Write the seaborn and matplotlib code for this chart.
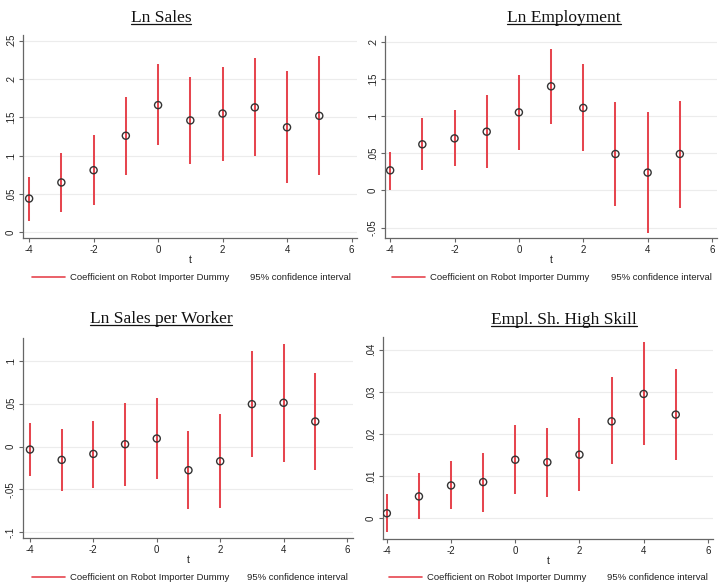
import numpy as np
import pandas as pd
import seaborn as sns
import matplotlib.pyplot as plt
from matplotlib.lines import Line2D

# event time
t = [-4, -3, -2, -1, 0, 1, 2, 3, 4, 5]

# Ln Sales
sales_coef = [0.044, 0.065, 0.081, 0.126, 0.166, 0.146, 0.155, 0.163, 0.137, 0.152]
sales_lo = [0.015, 0.026, 0.036, 0.075, 0.114, 0.089, 0.093, 0.099, 0.064, 0.075]
sales_hi = [0.072, 0.104, 0.127, 0.177, 0.219, 0.203, 0.216, 0.227, 0.210, 0.230]

# Ln Employment
emp_coef = [0.027, 0.062, 0.070, 0.079, 0.105, 0.140, 0.111, 0.049, 0.024, 0.049]
emp_lo = [0.000, 0.028, 0.033, 0.030, 0.055, 0.090, 0.053, -0.021, -0.057, -0.023]
emp_hi = [0.052, 0.097, 0.108, 0.128, 0.155, 0.190, 0.170, 0.119, 0.105, 0.120]

# Ln Sales per Worker
spw_coef = [-0.0035, -0.0156, -0.0086, 0.0027, 0.0094, -0.0277, -0.0172, 0.0496, 0.0512, 0.0293]
spw_lo = [-0.035, -0.052, -0.048, -0.046, -0.038, -0.073, -0.072, -0.0125, -0.0176, -0.027]
spw_hi = [0.028, 0.020, 0.030, 0.051, 0.057, 0.018, 0.038, 0.112, 0.120, 0.0855]

# Empl. Sh. High Skill
hs_coef = [0.0012, 0.0052, 0.0078, 0.0086, 0.0139, 0.0133, 0.0151, 0.0230, 0.0295, 0.0246]
hs_lo = [-0.0033, -0.0001, 0.0021, 0.0014, 0.0057, 0.0051, 0.0065, 0.0128, 0.0173, 0.0138]
hs_hi = [0.0057, 0.0107, 0.0137, 0.0156, 0.0222, 0.0215, 0.0238, 0.0334, 0.0418, 0.0355]

titles = ["Ln Sales", "Ln Employment", "Ln Sales per Worker", "Empl. Sh. High Skill"]

x_ticks = [-4, -2, 0, 2, 4, 6]
x_labels = ["-4", "-2", "0", "2", "4", "6"]

sales_yticks = [0, 0.05, 0.1, 0.15, 0.2, 0.25]
sales_ylabels = ["0", ".05", ".1", ".15", ".2", ".25"]
emp_yticks = [-0.05, 0, 0.05, 0.1, 0.15, 0.2]
emp_ylabels = ["-.05", "0", ".05", ".1", ".15", ".2"]
spw_yticks = [-0.1, -0.05, 0, 0.05, 0.1]
spw_ylabels = ["-.1", "-.05", "0", ".05", ".1"]
hs_yticks = [0, 0.01, 0.02, 0.03, 0.04]
hs_ylabels = ["0", ".01", ".02", ".03", ".04"]

sns.set_style("white")
plt.rcParams['font.family'] = ['Liberation Sans', 'DejaVu Sans']

W, H = 719, 584
fig = plt.figure(figsize=(W / 100, H / 100), dpi=100)

red = "#e6464f"

panels = [
    # coef, lo, hi, yticks, ylabels, ylim, xlim, axes rect (px: left, top, right, bottom), title center/baseline, legend y
    (sales_coef, sales_lo, sales_hi, sales_yticks, sales_ylabels, (-0.0075, 0.2575), (-4.19, 6.17),
     (23, 35, 357, 238), (161, 22), 278, 32, 250),
    (emp_coef, emp_lo, emp_hi, emp_yticks, emp_ylabels, (-0.064, 0.2077), (-4.16, 6.155),
     (385, 36, 717, 238), (564, 21.5), 278, 392, 611),
    (spw_coef, spw_lo, spw_hi, spw_yticks, spw_ylabels, (-0.107, 0.127), (-4.22, 6.19),
     (23, 338, 353, 538), (161, 323), 578, 32, 247),
    (hs_coef, hs_lo, hs_hi, hs_yticks, hs_ylabels, (-0.0049, 0.043), (-4.12, 6.16),
     (383, 337, 713, 539), (564, 323.5), 578, 389, 607),
]

title_texts = []
for i, (coef, lo, hi, yt, yl, ylim, xlim, rect, tpos, leg_y, leg_x, ci_x) in enumerate(panels):
    l, tp, r, b = rect
    ax = fig.add_axes([l / W, 1 - b / H, (r - l) / W, (b - tp) / H])
    df = pd.DataFrame({'t': t, 'coef': coef, 'lo': lo, 'hi': hi})

    ax.vlines(df['t'], df['lo'], df['hi'], color=red, lw=1.45, zorder=2)
    sns.scatterplot(data=df, x='t', y='coef', ax=ax, s=26, marker='o',
                    facecolor='none', edgecolor='#333333', linewidth=1.0, zorder=3)

    ax.set_xlim(*xlim)
    ax.set_ylim(*ylim)
    ax.set_xticks(x_ticks)
    ax.set_xticklabels(x_labels)
    ax.set_yticks(yt)
    ax.set_yticklabels(yl, rotation=90, va='center')
    ax.grid(axis='y', color='#ececec', lw=0.8)
    ax.grid(axis='x', visible=False)
    for s in ['top', 'right']:
        ax.spines[s].set_visible(False)
    for s in ['left', 'bottom']:
        ax.spines[s].set_color('#666666')
        ax.spines[s].set_linewidth(0.9)
    ax.tick_params(axis='both', direction='out', length=3, width=0.8, color='#666666',
                   labelsize=7, labelcolor='#222222', pad=2, left=True, bottom=True)
    ax.set_xlabel('t', fontsize=7.5, color='#222222', labelpad=0)
    ax.set_ylabel('')

    leg = ax.legend(handles=[Line2D([], [], color=red, lw=1.2)],
                    labels=['Coefficient on Robot Importer Dummy'],
                    loc='center left', bbox_to_anchor=(leg_x / W, 1 - leg_y / H),
                    bbox_transform=fig.transFigure, frameon=False, fontsize=6.8,
                    handlelength=3.5, handletextpad=0.55, borderpad=0, borderaxespad=0)
    for txt in leg.get_texts():
        txt.set_color('#222222')
    fig.text(ci_x / W, 1 - leg_y / H, '95% confidence interval', fontsize=6.8,
             color='#222222', ha='left', va='center')

    tt = fig.text(tpos[0] / W, 1 - tpos[1] / H, titles[i], fontsize=12.5,
                  family=['Liberation Serif', 'DejaVu Serif'], color='#111111',
                  ha='center', va='baseline')
    title_texts.append((tt, tpos))

# underline the titles
fig.canvas.draw()
renderer = fig.canvas.get_renderer()
for tt, tpos in title_texts:
    bb = tt.get_window_extent(renderer)
    yline = 1 - (tpos[1] + 2) / H
    fig.add_artist(Line2D([bb.x0 / W, bb.x1 / W], [yline, yline],
                          transform=fig.transFigure, color='#111111', lw=0.9))

fig.savefig('out.png', dpi=100)
